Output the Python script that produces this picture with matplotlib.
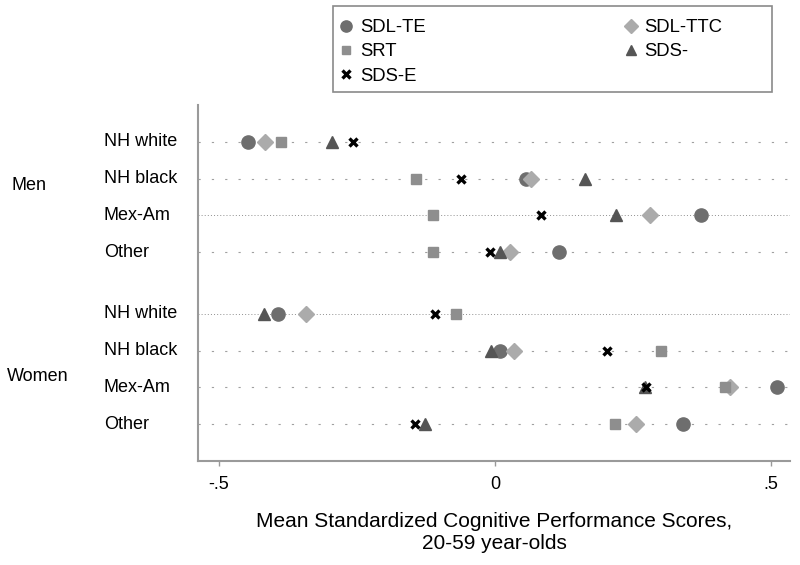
import matplotlib
matplotlib.use("Agg")
import matplotlib.pyplot as plt
from matplotlib.patches import Rectangle
import numpy as np

plt.rcParams['font.family'] = ['Liberation Sans', 'DejaVu Sans']

groups = ["Men", "Women"]
races = ["NH white", "NH black", "Mex-Am", "Other"]

# values: men (NH white, NH black, Mex-Am, Other), then women (same order)
sdl_te  = [-0.448, 0.056, 0.372, 0.116, -0.394, 0.009, 0.510, 0.341]
sdl_ttc = [-0.416, 0.065, 0.281, 0.027, -0.343, 0.034, 0.426, 0.256]
srt     = [-0.387, -0.143, -0.113, -0.113, -0.071, 0.301, 0.417, 0.218]
sds_m   = [-0.296, 0.163, 0.219, 0.009, -0.419, -0.007, 0.272, -0.127]
sds_e   = [-0.258, -0.062, 0.083, -0.009, -0.109, 0.203, 0.274, -0.145]

xticks = [-0.5, 0, 0.5]
xticklabels = ["-.5", "0", ".5"]

W, H = 800, 565
fig = plt.figure(figsize=(W / 100, H / 100), dpi=100)
ax = fig.add_axes([198 / W, 1 - 461 / H, 592 / W, (461 - 105) / H])

gap = 0.68
ypos = []
for g in range(len(groups)):
    for r in range(len(races)):
        ypos.append(g * (len(races) + gap) + r)
ypos = np.array(ypos)

dense_rows = {2, 4}
for i, y in enumerate(ypos):
    if i in dense_rows:
        ax.axhline(y, color="#8f8f8f", lw=0.7, ls=(0, (1, 2.2)), zorder=1)
    else:
        ax.axhline(y, color="#a0a0a0", lw=0.8, ls=(0, (2, 10)), zorder=1)

ax.plot(sdl_te, ypos, 'o', color="#6e6e6e", ms=9.5, ls='none', label="SDL-TE", zorder=3)
ax.plot(sdl_ttc, ypos, 'D', color="#ababab", ms=8, ls='none', label="SDL-TTC", zorder=3)
ax.plot(srt, ypos, 's', color="#8e8e8e", ms=7.5, ls='none', label="SRT", zorder=3)
ax.plot(sds_m, ypos, '^', color="#555555", ms=9, ls='none', label="SDS-", zorder=3)
ax.plot(sds_e, ypos, 'x', color="black", ms=6, mew=2.4, ls='none', label="SDS-E", zorder=4)

xl = (-0.538, 0.534)
ax.set_xlim(*xl)
ax.set_ylim(ypos[-1] + 1, -1)
ax.set_yticks([])
ax.set_xticks(xticks)
ax.set_xticklabels(xticklabels, fontsize=13)
ax.tick_params(axis='x', length=3.6, width=1, color="#999999", pad=7)
for s in ["top", "right"]:
    ax.spines[s].set_visible(False)
for s in ["left", "bottom"]:
    ax.spines[s].set_color("#9a9a9a")
    ax.spines[s].set_linewidth(1.5)

ax.set_xlabel("Mean Standardized Cognitive Performance Scores,\n20-59 year-olds",
              fontsize=15, labelpad=14, linespacing=1.2)

# category labels
ppu = 552.0
for i, y in enumerate(ypos):
    ax.text(xl[0] - 94 / ppu, y, races[i % len(races)], fontsize=13,
            ha='left', va='center')
ax.text(xl[0] - 186 / ppu, ypos[1] + 0.2, groups[0], fontsize=13, ha='left', va='center')
ax.text(xl[0] - 191 / ppu, ypos[5] + 0.7, groups[1], fontsize=13, ha='left', va='center')

# legend box
fig.add_artist(Rectangle((333 / W, 1 - 92 / H), (772 - 333) / W, (92 - 6) / H,
                         transform=fig.transFigure, fill=False,
                         edgecolor="#8a8a8a", lw=1.2))

handles, labels = ax.get_legend_handles_labels()
order = ["SDL-TE", "SRT", "SDS-E", "SDL-TTC", "SDS-"]
hmap = dict(zip(labels, handles))
leg = fig.legend([hmap[k] for k in order], order, loc='upper left',
                 bbox_to_anchor=(337 / W, 1 - 19 / H), ncol=2, fontsize=13.3,
                 frameon=False, columnspacing=10.6, handletextpad=0.25,
                 handlelength=1.0, labelspacing=0.4, borderpad=0,
                 borderaxespad=0, markerscale=0.85)

fig.savefig("out.png", dpi=100)
